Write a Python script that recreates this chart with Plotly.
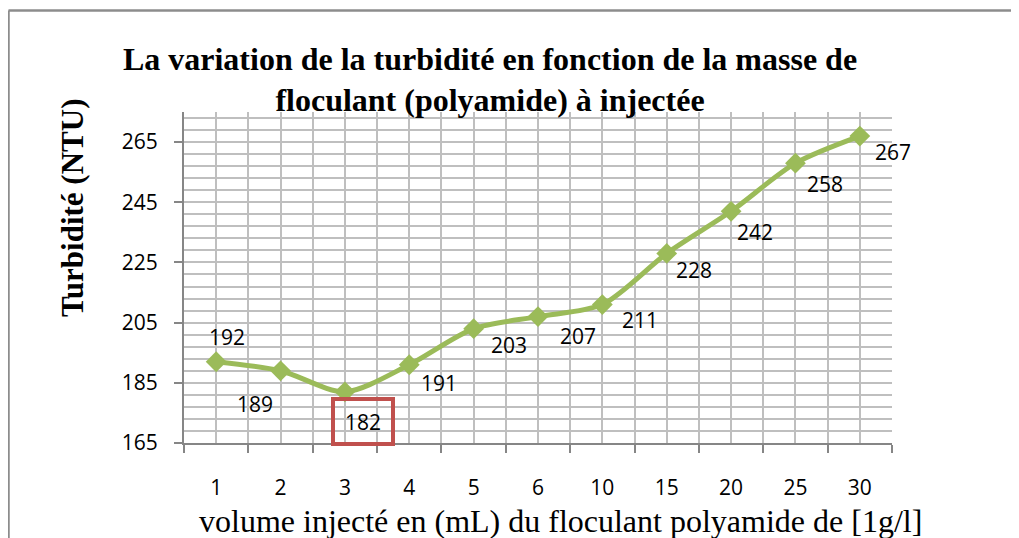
import plotly.graph_objects as go

categories = ["1", "2", "3", "4", "5", "6", "10", "15", "20", "25", "30"]
turbidity = [192, 189, 182, 191, 203, 207, 211, 228, 242, 258, 267]
y_ticks = [165, 185, 205, 225, 245, 265]

title_text = "La variation de la turbidité en fonction de la masse de<br>floculant (polyamide) à injectée"
y_title = "Turbidité (NTU)"
x_title = "volume injecté en (mL) du floculant polyamide de [1g/l]"

OFF = 8  # page body margin in the browser
W, H = 1019 - OFF, 538 - OFF
ML = 184 - OFF
MT = 112 - OFF
MR = W - (892 - OFF)
MB = H - (443 - OFF)
PW, PH = W - ML - MR, H - MT - MB

def px_x(p):
    return (p - OFF - ML) / PW

def px_y(p):
    return (H - MB - (p - OFF)) / PH

green = "#9BBB59"
grid = "#BFBFBF"
axis_c = "#868686"
label_font = dict(family="Open Sans", size=21, color="#000000")

idx = list(range(len(categories)))

fig = go.Figure()
fig.add_trace(go.Scatter(
    x=idx, y=turbidity, mode="lines+markers",
    line=dict(color=green, width=5, shape="spline", smoothing=0.8),
    marker=dict(symbol="diamond", size=16, color=green),
    hoverinfo="skip", showlegend=False,
))

# data label offsets (pixels)
offsets = [(11, 25), (-26, -33), (18, -30), (30, -18), (35, -16), (40, -19),
           (38, -15), (27, -17), (24, -21), (30, -21), (33, -16)]
for i, (v, (dx, dy)) in enumerate(zip(turbidity, offsets)):
    ann = dict(x=i, y=v, text=str(v), showarrow=False, xshift=dx, yshift=dy,
               xanchor="center", yanchor="middle", font=label_font)
    if i == 2:
        ann.update(bordercolor="#C0504D", borderwidth=4, width=54, height=39,
                   bgcolor="rgba(255,255,255,0)")
    fig.add_annotation(**ann)

fig.add_annotation(text=y_title, xref="paper", yref="paper", x=px_x(72), y=px_y(208),
                   xanchor="center", yanchor="middle",
                   textangle=-90, showarrow=False,
                   font=dict(family="Liberation Serif", size=31, color="#000000", weight="bold"))
fig.add_annotation(text=x_title, xref="paper", yref="paper", x=px_x(560), y=px_y(521),
                   xanchor="center", yanchor="middle", showarrow=False,
                   font=dict(family="Liberation Serif", size=32, color="#000000"))

# outer chart border (top and left visible)
fig.add_shape(type="line", xref="paper", yref="paper", x0=px_x(8.5), x1=px_x(1040),
              y0=px_y(10.5), y1=px_y(10.5), line=dict(color="#8C8C8C", width=2.5))
fig.add_shape(type="line", xref="paper", yref="paper", x0=px_x(8.5), x1=px_x(8.5),
              y0=px_y(10.5), y1=px_y(560), line=dict(color="#8C8C8C", width=2.5))

fig.update_layout(
    width=W, height=H,
    margin=dict(l=ML, r=MR, t=MT, b=MB),
    paper_bgcolor="white", plot_bgcolor="white",
    title=dict(text=title_text, x=(490 - OFF) / W, y=1 - (69.5 - OFF) / H,
               xanchor="center", yanchor="middle",
               font=dict(family="Liberation Serif", size=32, color="#000000", weight="bold")),
)

fig.update_xaxes(
    range=[-0.5, len(categories) - 0.5],
    tickmode="array", tickvals=idx, ticktext=categories,
    ticks="", showgrid=True, gridcolor=grid, gridwidth=1.5,
    showline=True, linecolor=axis_c, linewidth=2,
    tickfont=label_font, ticklabelstandoff=25,
    minor=dict(tick0=-0.5, dtick=1, ticks="outside", ticklen=8, tickwidth=2,
               tickcolor=axis_c, showgrid=True, gridcolor=grid, gridwidth=1.5),
    zeroline=False, fixedrange=True,
)
fig.update_yaxes(
    range=[165, 275],
    tickmode="array", tickvals=y_ticks,
    ticks="outside", ticklen=8, tickwidth=2, tickcolor=axis_c,
    showgrid=True, gridcolor=grid, gridwidth=1.5,
    showline=True, linecolor=axis_c, linewidth=2,
    tickfont=label_font, ticklabelstandoff=12,
    minor=dict(tick0=165, dtick=4, ticks="", showgrid=True, gridcolor=grid, gridwidth=1.5),
    zeroline=False, fixedrange=True,
)

fig.write_html("out.html")
